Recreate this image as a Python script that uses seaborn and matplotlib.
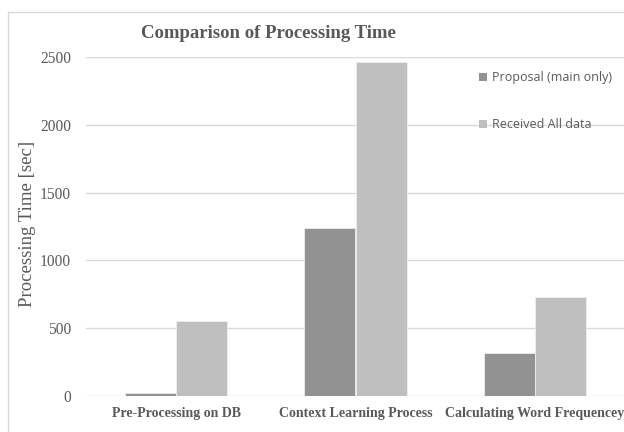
import matplotlib
matplotlib.use("Agg")
import matplotlib.pyplot as plt
from matplotlib.patches import Rectangle
import seaborn as sns
import pandas as pd

# Processing time per stage, in seconds
categories = ["Pre-Processing on DB", "Context Learning Process", "Calculating Word Frequencey"]
series_names = ["Proposal (main only)", "Received All data"]
proposal_main_only = [25, 1240, 320]
received_all_data = [550, 2460, 730]
y_ticks = [0, 500, 1000, 1500, 2000, 2500]

colors = ["#929292", "#bfbfbf"]
text_gray = "#595959"
grid_gray = "#d9d9d9"

df = pd.DataFrame({
    "stage": categories * 2,
    "series": [series_names[0]] * 3 + [series_names[1]] * 3,
    "time": proposal_main_only + received_all_data,
})

sns.set_theme(style="white")
plt.rcParams["font.family"] = ["Liberation Serif", "DejaVu Serif"]

W, H = 624, 432
fig = plt.figure(figsize=(W / 100, H / 100), dpi=100)
ax = fig.add_axes([86.25 / W, 36 / H, 538.5 / W, 339 / H])

sns.barplot(data=df, x="stage", y="time", hue="series", order=categories,
            hue_order=series_names, palette=colors, width=0.57,
            edgecolor="#eeeeee", linewidth=0.6, saturation=1, ax=ax, zorder=3)

ax.set_xlim(-0.5, 2.5)
ax.set_ylim(0, 2500)
ax.set_yticks(y_ticks)
ax.set_yticklabels([str(v) for v in y_ticks], fontsize=11.2, color=text_gray)
ax.yaxis.grid(True, color=grid_gray, linewidth=1, zorder=0)
ax.set_axisbelow(True)
for s in ax.spines.values():
    s.set_visible(False)
ax.tick_params(axis="y", length=0, pad=11)
ax.tick_params(axis="x", length=0, pad=8)
for lbl in ax.get_xticklabels():
    lbl.set_fontweight("bold")
    lbl.set_fontsize(10)
    lbl.set_color(text_gray)
ax.set_xlabel("")
ax.set_ylabel("Processing Time [sec]", fontsize=13.5, color=text_gray)
ax.yaxis.set_label_coords(28 / W, 1 - 224 / H, transform=fig.transFigure)
ax.yaxis.label.set_verticalalignment("center")

ax.set_title("Comparison of Processing Time", fontsize=13.5, fontweight="bold",
             color=text_gray, x=(268 - 86.25) / 538.5, y=1.0, pad=14)

leg = ax.legend(loc="upper left", frameon=False,
                prop={"family": "Open Sans", "size": 9},
                handlelength=0.6, handleheight=0.6, handletextpad=0.4,
                labelspacing=2.75, borderaxespad=0, borderpad=0)
leg.set_bbox_to_anchor((479 / W, 1 - 71 / H), transform=fig.transFigure)
for t in leg.get_texts():
    t.set_color(text_gray)
for h in leg.legend_handles:
    h.set_edgecolor("none")

# chart-area frame
fig.patches.append(Rectangle((7.5 / W, -0.2), 2, 1.2 - 12 / H,
                             transform=fig.transFigure, fill=False,
                             edgecolor=grid_gray, linewidth=1))

fig.savefig("out.png", dpi=100)
